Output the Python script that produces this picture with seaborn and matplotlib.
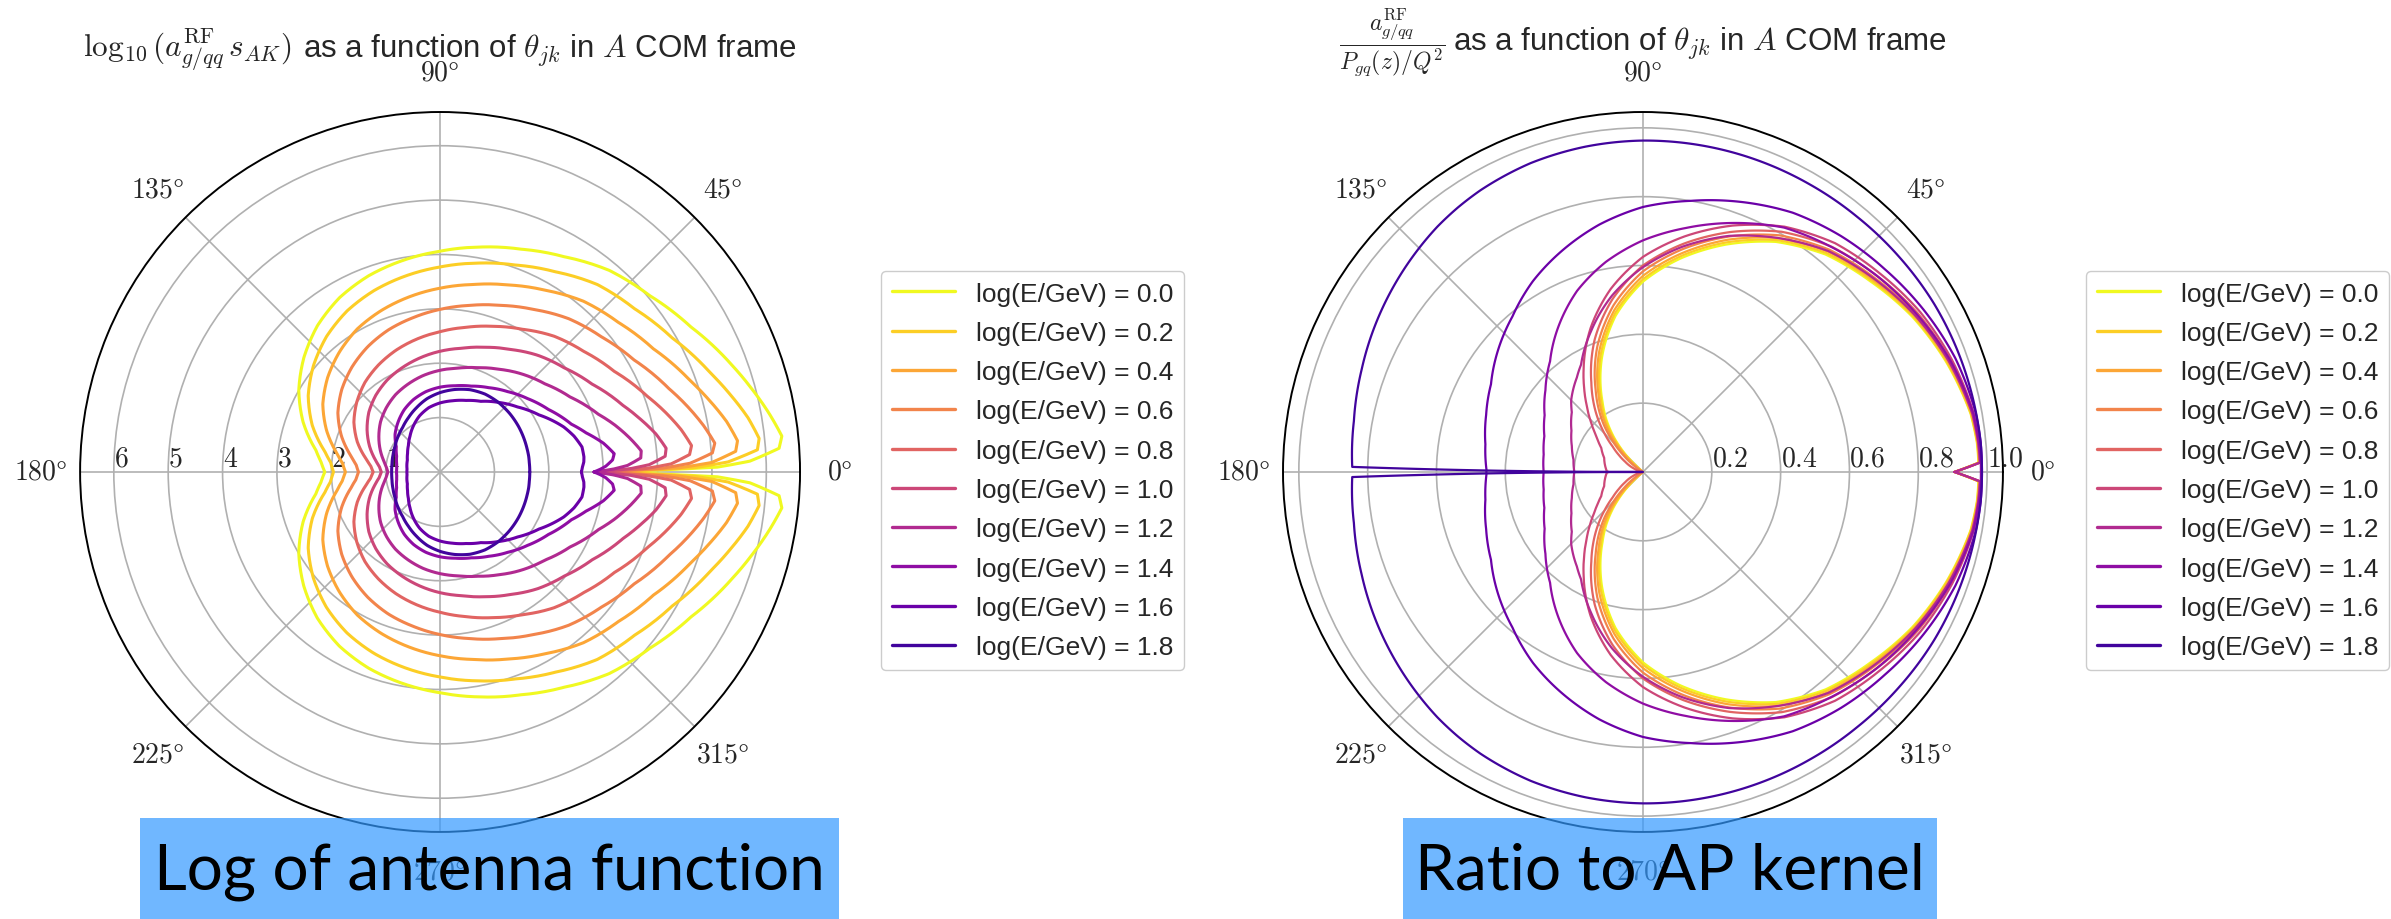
import numpy as np
import pandas as pd
import matplotlib
matplotlib.use("Agg")
import matplotlib.pyplot as plt
import seaborn as sns
from matplotlib.patches import Rectangle

sns.set_style("white")
plt.rcParams["font.family"] = ["Liberation Sans", "DejaVu Sans"]
plt.rcParams["mathtext.fontset"] = "cm"

# Energies of the curves
log_energy = [0.0, 0.2, 0.4, 0.6, 0.8, 1.0, 1.2, 1.4, 1.6, 1.8]
legend_labels = [f"log(E/GeV) = {e:.1f}" for e in log_energy]

# ---- left panel: log10 of antenna function vs theta_jk (upper half, degrees) ----
theta_left = [0, 1, 2, 4, 6, 10, 15, 20, 30, 40, 50, 60, 70, 80, 90,
              100, 110, 120, 130, 140, 150, 160, 170, 175, 180]
antenna_e00 = [2.85, 5.10, 5.70, 6.25, 6.32, 6.15, 5.93, 5.72, 5.33, 5.04, 4.84, 4.57, 4.36,
               4.20, 4.06, 3.95, 3.84, 3.70, 3.51, 3.27, 3.00, 2.68, 2.32, 2.20, 2.12]
antenna_e02 = [2.85, 4.70, 5.30, 5.85, 5.90, 5.75, 5.52, 5.30, 4.93, 4.67, 4.50, 4.25, 4.05,
               3.90, 3.77, 3.66, 3.55, 3.42, 3.25, 3.04, 2.80, 2.50, 2.15, 2.02, 1.96]
antenna_e04 = [2.85, 4.40, 5.00, 5.45, 5.50, 5.35, 5.12, 4.90, 4.53, 4.28, 4.10, 3.86, 3.66,
               3.50, 3.38, 3.27, 3.16, 3.04, 2.88, 2.70, 2.49, 2.22, 1.92, 1.80, 1.74]
antenna_e06 = [2.85, 4.10, 4.60, 5.02, 5.08, 4.92, 4.70, 4.48, 4.12, 3.87, 3.68, 3.45, 3.26,
               3.11, 2.99, 2.88, 2.78, 2.66, 2.52, 2.36, 2.17, 1.93, 1.66, 1.55, 1.50]
antenna_e08 = [2.85, 3.80, 4.25, 4.60, 4.65, 4.50, 4.28, 4.06, 3.70, 3.45, 3.26, 3.03, 2.85,
               2.70, 2.58, 2.48, 2.38, 2.27, 2.15, 2.00, 1.83, 1.62, 1.38, 1.28, 1.23]
antenna_e10 = [2.85, 3.50, 3.85, 4.15, 4.18, 4.03, 3.80, 3.58, 3.23, 2.98, 2.80, 2.60, 2.44,
               2.31, 2.22, 2.13, 2.04, 1.95, 1.84, 1.71, 1.55, 1.38, 1.20, 1.12, 1.08]
antenna_e12 = [2.85, 3.20, 3.45, 3.70, 3.72, 3.55, 3.33, 3.10, 2.76, 2.52, 2.35, 2.18, 2.04,
               1.94, 1.87, 1.80, 1.72, 1.64, 1.54, 1.43, 1.30, 1.17, 1.04, 0.99, 0.96]
antenna_e14 = [2.83, 2.95, 3.05, 3.18, 3.22, 3.05, 2.78, 2.57, 2.30, 2.10, 1.93, 1.79, 1.68,
               1.61, 1.56, 1.50, 1.42, 1.32, 1.20, 1.08, 0.93, 0.85, 0.81, 0.80, 0.80]
antenna_e16 = [2.60, 2.61, 2.62, 2.65, 2.66, 2.65, 2.55, 2.42, 2.10, 1.86, 1.67, 1.50, 1.40,
               1.33, 1.27, 1.20, 1.10, 0.98, 0.86, 0.76, 0.69, 0.64, 0.62, 0.61, 0.61]
antenna_e18 = [1.65, 1.65, 1.65, 1.65, 1.65, 1.655, 1.656, 1.66, 1.668, 1.672, 1.67, 1.654, 1.61,
               1.54, 1.46, 1.37, 1.26, 1.158, 1.07, 1.01, 0.955, 0.92, 0.897, 0.892, 0.89]
antenna_curves = [antenna_e00, antenna_e02, antenna_e04, antenna_e06, antenna_e08,
                  antenna_e10, antenna_e12, antenna_e14, antenna_e16, antenna_e18]

# ---- right panel: ratio to the AP kernel vs theta_jk (upper half, degrees) ----
theta_right = [0, 1.6, 5, 10, 20, 30, 40, 50, 60, 70, 80, 90, 100, 110, 120,
               125, 130, 135, 140, 145, 150, 160, 170, 179, 180]
ratio_e00 = [0.905, 0.975, 0.974, 0.967, 0.937, 0.903, 0.862, 0.825, 0.772, 0.703, 0.630, 0.553,
             0.460, 0.350, 0.235, 0.185, 0.130, 0.070, 0.0, 0.0, 0.0, 0.0, 0.0, 0.0, 0.0]
ratio_e02 = [0.905, 0.976, 0.975, 0.968, 0.939, 0.906, 0.866, 0.830, 0.778, 0.710, 0.637, 0.560,
             0.468, 0.360, 0.245, 0.195, 0.140, 0.080, 0.020, 0.0, 0.0, 0.0, 0.0, 0.0, 0.0]
ratio_e04 = [0.905, 0.977, 0.976, 0.970, 0.942, 0.910, 0.871, 0.836, 0.785, 0.718, 0.645, 0.570,
             0.478, 0.372, 0.258, 0.208, 0.155, 0.095, 0.040, 0.0, 0.0, 0.0, 0.0, 0.0, 0.0]
ratio_e06 = [0.905, 0.978, 0.977, 0.972, 0.945, 0.915, 0.878, 0.843, 0.794, 0.728, 0.657, 0.583,
             0.492, 0.388, 0.275, 0.225, 0.175, 0.120, 0.070, 0.030, 0.0, 0.0, 0.0, 0.0, 0.0]
ratio_e08 = [0.905, 0.979, 0.978, 0.974, 0.950, 0.922, 0.887, 0.854, 0.806, 0.742, 0.673, 0.600,
             0.510, 0.410, 0.300, 0.252, 0.205, 0.158, 0.115, 0.085, 0.060, 0.025, 0.005, 0.0, 0.0]
ratio_e10 = [0.905, 0.980, 0.979, 0.976, 0.955, 0.930, 0.898, 0.868, 0.823, 0.762, 0.695, 0.625,
             0.540, 0.445, 0.345, 0.298, 0.255, 0.218, 0.185, 0.160, 0.140, 0.120, 0.112, 0.105, 0.100]
ratio_e12 = [0.905, 0.980, 0.978, 0.972, 0.945, 0.912, 0.875, 0.838, 0.785, 0.730, 0.665, 0.595,
             0.520, 0.438, 0.360, 0.335, 0.315, 0.295, 0.270, 0.255, 0.240, 0.220, 0.205, 0.200, 0.200]
ratio_e14 = [0.982, 0.982, 0.980, 0.975, 0.950, 0.918, 0.887, 0.853, 0.820, 0.770, 0.720, 0.673,
             0.620, 0.560, 0.490, 0.455, 0.420, 0.395, 0.370, 0.350, 0.330, 0.305, 0.293, 0.289, 0.289]
ratio_e16 = [0.985, 0.985, 0.985, 0.982, 0.966, 0.942, 0.917, 0.895, 0.870, 0.835, 0.800, 0.770,
             0.730, 0.685, 0.640, 0.615, 0.590, 0.570, 0.550, 0.530, 0.510, 0.485, 0.465, 0.455, 0.455]
ratio_e18 = [0.985, 0.985, 0.985, 0.983, 0.980, 0.977, 0.972, 0.968, 0.966, 0.965, 0.964, 0.963,
             0.960, 0.955, 0.945, 0.938, 0.930, 0.920, 0.910, 0.900, 0.890, 0.870, 0.853, 0.845, 0.0]
ratio_curves = [ratio_e00, ratio_e02, ratio_e04, ratio_e06, ratio_e08,
                ratio_e10, ratio_e12, ratio_e14, ratio_e16, ratio_e18]

# colours: plasma, yellow for the lowest energy down to indigo for the highest
cmap = plt.get_cmap("plasma")
colors = [cmap(1.0 - e / 2.0) for e in log_energy]


def full_circle(theta_deg, r_vals):
    """Mirror an upper-half curve (0..180 deg) into the lower half."""
    th = np.asarray(theta_deg, float)
    r = np.asarray(r_vals, float)
    th_full = np.concatenate([th, 360.0 - th[-2::-1]])
    r_full = np.concatenate([r, r[-2::-1]])
    return np.deg2rad(th_full), r_full


W, H = 2391, 920
fig = plt.figure(figsize=(W / 100, H / 100), dpi=100)
ax_l = fig.add_axes([0.0335, 0.0946, 0.3011, 0.7826], projection="polar")
ax_r = fig.add_axes([0.5366, 0.0946, 0.3011, 0.7826], projection="polar")

title_tail = r"as a function of $\theta_{jk}$ in $A$ COM frame"
panels = [
    (ax_l, theta_left, antenna_curves, 2.2, 6.62, [1, 2, 3, 4, 5, 6],
     ["$1$", "$2$", "$3$", "$4$", "$5$", "$6$"], 180.0,
     (r"$\log_{10}(a_{g/qq}^{\rm RF}\, s_{AK})$ ", 22.5), 58, 881),
    (ax_r, theta_right, ratio_curves, 1.6, 1.046, [0.2, 0.4, 0.6, 0.8, 1.0],
     ["$0.2$", "$0.4$", "$0.6$", "$0.8$", "$1.0$"], 0.0,
     (r"$\dfrac{a_{g/qq}^{\rm RF}}{P_{gq}(z)/Q^2}$", 17), 51, 2086),
]

fig.canvas.draw()
renderer = fig.canvas.get_renderer()

for (ax, theta, curves, lw, rmax, rticks, rlabels, rlabpos, (head, head_size),
     title_y, leg_x) in panels:
    for vals, col, lab in zip(curves, colors, legend_labels):
        th, r = full_circle(theta, vals)
        df = pd.DataFrame({"theta": th, "r": r})
        sns.lineplot(data=df, x="theta", y="r", sort=False, estimator=None,
                     color=col, linewidth=lw, label=lab, ax=ax)
    # draw segments between samples along the polar grid rather than as chords
    for ln in ax.lines:
        ln.get_path()._interpolation_steps = 16
    ax.set_ylim(0, rmax)
    ax.set_xlabel("")
    ax.set_ylabel("")
    ax.set_thetagrids(np.arange(0, 360, 45),
                      labels=[rf"${d}\degree$" for d in range(0, 360, 45)])
    ax.set_rticks(rticks)
    ax.set_yticklabels(rlabels)
    ax.set_rlabel_position(rlabpos)
    ax.tick_params(axis="x", labelsize=20, pad=18)
    ax.tick_params(axis="y", labelsize=20, pad=2)
    ax.grid(True, color="#b0b0b0", linewidth=1.2)
    ax.spines["polar"].set_color("black")
    ax.spines["polar"].set_linewidth(1.4)

    # title: formula head followed by the text tail, centred over the panel
    y_fig = 1 - title_y / H
    t_head = fig.text(0, y_fig, head, fontsize=head_size, ha="left", va="baseline")
    t_tail = fig.text(0, y_fig, title_tail, fontsize=22.5, ha="left", va="baseline")
    w_head = t_head.get_window_extent(renderer).width
    w_tail = t_tail.get_window_extent(renderer).width
    gap = 8
    pos = ax.get_position()
    cx = (pos.x0 + pos.width / 2) * W
    x_start = cx - (w_head + gap + w_tail) / 2
    t_head.set_x(x_start / W)
    t_tail.set_x((x_start + w_head + gap) / W)

    leg = ax.legend(loc="upper left", bbox_to_anchor=(leg_x / W, 1 - 272 / H),
                    bbox_transform=fig.transFigure, fontsize=19, frameon=True,
                    fancybox=True, edgecolor="#cccccc", framealpha=1.0,
                    handlelength=2.4, labelspacing=0.58, borderaxespad=0.0)
    for line in leg.get_lines():
        line.set_linewidth(2.4)

# captions on translucent blue bands
for x0, x1, caption in [(140, 839, "Log of antenna function"),
                        (1403, 1937, "Ratio to AP kernel")]:
    fig.add_artist(Rectangle((x0 / W, 0.0), (x1 - x0) / W, 101 / H,
                             transform=fig.transFigure, facecolor=(0.2, 0.6, 1.0),
                             alpha=0.7, edgecolor="none", zorder=10))
    fig.text((x0 + x1) / 2 / W, 48 / H, caption, fontsize=46, family="Lato",
             ha="center", va="center", color="black", zorder=11)

fig.savefig("out.png", dpi=100)
